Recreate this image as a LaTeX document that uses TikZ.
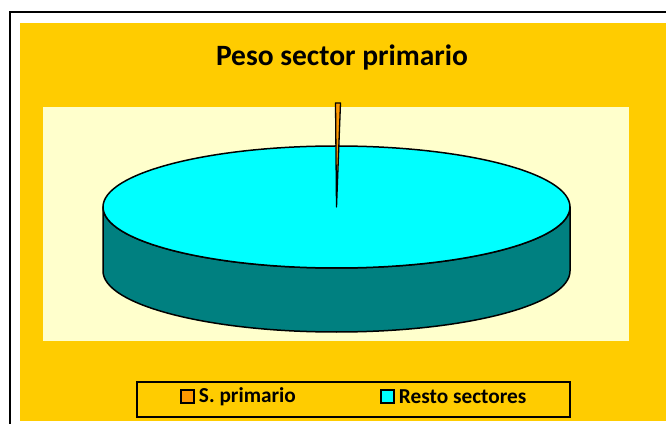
\documentclass[tikz,border=0pt]{standalone}
\usepackage{fontspec}
\setmainfont{Carlito}
\usetikzlibrary{positioning}
\definecolor{chartgold}{HTML}{FFCC00}
\definecolor{plotcream}{HTML}{FFFFCC}
\definecolor{piecyan}{HTML}{00FFFF}
\definecolor{pieteal}{HTML}{008080}
\definecolor{pieorange}{HTML}{FF9900}
\begin{document}
\begin{tikzpicture}[x=1pt, y=1pt,
		pieline/.style={draw=black, line width=1.5pt, line join=round},
		keybox/.style={draw=black, line width=1.5pt, minimum size=13pt, inner sep=0pt},
		keytext/.style={font=\fontsize{21.3}{24}\selectfont\bfseries, inner sep=0pt, anchor=west}]
		\useasboundingbox (0,0) rectangle (666,423);
		\clip (0,0) rectangle (666,423);

		% chart area and plot area
		\fill[chartgold] (20,2.5) rectangle (670,400);
		\draw[line width=2pt] (9.5,-5) -- (9.5,411) -- (680,411);
		\fill[plotcream] (43,82) rectangle (629,316);

		\node (title) at (342,366) {\fontsize{29.5}{33}\selectfont\bfseries Peso sector primario};

		% pie
		\coordinate (top) at (336.5,216);
		\coordinate (bottom) at (336.5,152);
		\draw[pieline, fill=pieteal] (103,216) -- (103,152) arc (180:360:233.5 and 61) -- (570,216) arc (360:180:233.5 and 61) -- cycle;
		\draw[pieline, fill=piecyan] (top) ellipse (233.5 and 61);
		\draw[pieline, line width=1.3pt, fill=pieorange] (top) -- (335.5,320) -- (340.5,320) -- cycle;

		% legend
		\draw[line width=1.5pt, fill=chartgold] (137,6) rectangle (570,41);
		\node[keybox, fill=pieorange] (k1) at (187.5,26.5) {};
		\node[keytext, right=4pt of k1] (t1) {S. primario};
		\node[keybox, fill=piecyan] (k2) at (387.5,26.5) {};
		\node[keytext, right=4pt of k2] (t2) {Resto sectores};
	\end{tikzpicture}
\end{document}
